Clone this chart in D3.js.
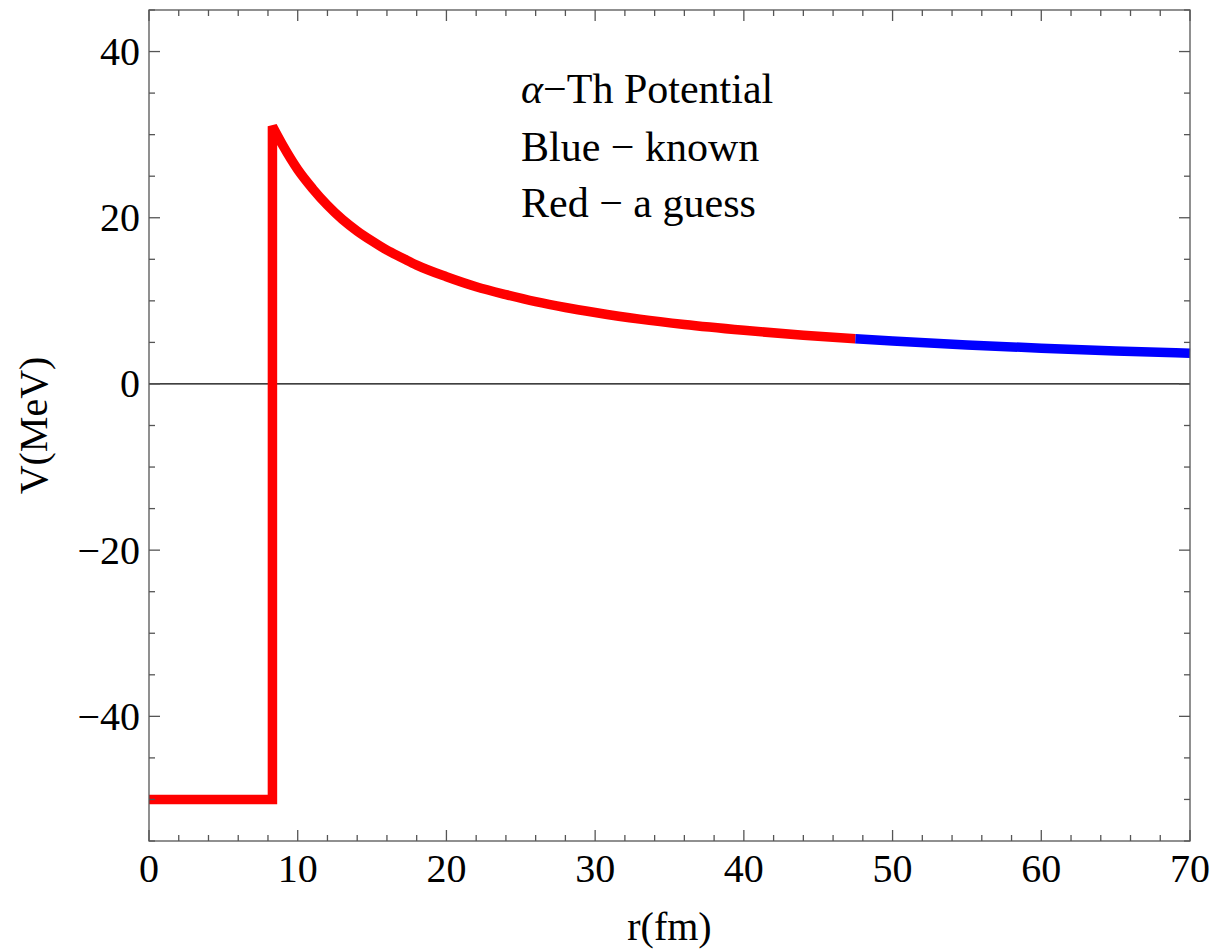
<!DOCTYPE html>
<html>
<head>
<meta charset="utf-8">
<script src="https://cdn.jsdelivr.net/npm/d3@7"></script>
<style>
  body { margin: 0; background: #fff; }
  svg { display: block; font-family: "Liberation Serif", "DejaVu Serif", serif; }
</style>
</head>
<body>
<svg id="chart" width="1216" height="950"></svg>
<script>
// values
const stepR = [0, 8.3];
const stepV = [-50, -50];

// red part of the barrier (a guess)
const guessR = [8.3, 9, 10, 11, 12, 13, 14, 15, 16, 17, 18, 20, 22, 24, 26, 28, 30, 33, 36, 40, 44, 47.5];
const guessV = [31.0, 28.7, 25.8, 23.5, 21.5, 19.8, 18.4, 17.2, 16.1, 15.2, 14.3, 12.9, 11.7, 10.75, 9.9, 9.2, 8.6, 7.8, 7.15, 6.45, 5.85, 5.43];

// blue part (known)
const knownR = [47.5, 50, 55, 60, 65, 70];
const knownV = [5.43, 5.16, 4.69, 4.3, 3.97, 3.69];

const xTicks = [0, 10, 20, 30, 40, 50, 60, 70];
const yTicks = [-40, -20, 0, 20, 40];
const notes = ["Th Potential", "Blue \u2212 known", "Red \u2212 a guess"];

const W = 1216, H = 950;
const margin = { left: 149, right: 26, top: 10, bottom: 109 };

const svg = d3.select("#chart");

const x = d3.scaleLinear().domain([0, 70]).range([margin.left, W - margin.right]);
const y = d3.scaleLinear().domain([-55, 45]).range([H - margin.bottom, margin.top]);

const frameColor = "#555";
const fontSize = 40;

// zero line
svg.append("line")
  .attr("x1", x(0)).attr("x2", x(70))
  .attr("y1", y(0)).attr("y2", y(0))
  .attr("stroke", "#000")
  .attr("stroke-width", 1.2);

// curves
const line = d3.line().x(d => x(d[0])).y(d => y(d[1]));
const smooth = d3.line().x(d => x(d[0])).y(d => y(d[1])).curve(d3.curveMonotoneX);

const stepPts = stepR.map((r, i) => [r, stepV[i]]);
const guessPts = guessR.map((r, i) => [r, guessV[i]]);
const knownPts = knownR.map((r, i) => [r, knownV[i]]);

// step + curve as one path so the corner gets a join
const redPath = line(stepPts) + smooth(guessPts).replace(/^M/, "L");

svg.append("path")
  .attr("d", redPath)
  .attr("fill", "none")
  .attr("stroke", "#ff0000")
  .attr("stroke-width", 9.5)
  .attr("stroke-linejoin", "miter")
  .attr("stroke-linecap", "butt");

svg.append("path")
  .attr("d", smooth(knownPts))
  .attr("fill", "none")
  .attr("stroke", "#0000ff")
  .attr("stroke-width", 9.5)
  .attr("stroke-linecap", "butt");

// frame
svg.append("rect")
  .attr("x", x(0)).attr("y", y(45))
  .attr("width", x(70) - x(0))
  .attr("height", y(-55) - y(45))
  .attr("fill", "none")
  .attr("stroke", frameColor)
  .attr("stroke-width", 1.3);

// inward ticks on all four sides
const majorLen = 11, minorLen = 6;
const xMinor = d3.range(0, 70.01, 2).filter(v => v % 10 !== 0);
const yMinor = d3.range(-55, 45.01, 5).filter(v => v % 20 !== 0);

const tickG = svg.append("g").attr("stroke", frameColor).attr("stroke-width", 1.3);

function xTick(v, len) {
  tickG.append("line").attr("x1", x(v)).attr("x2", x(v))
    .attr("y1", y(-55)).attr("y2", y(-55) - len);
  tickG.append("line").attr("x1", x(v)).attr("x2", x(v))
    .attr("y1", y(45)).attr("y2", y(45) + len);
}
function yTick(v, len) {
  tickG.append("line").attr("y1", y(v)).attr("y2", y(v))
    .attr("x1", x(0)).attr("x2", x(0) + len);
  tickG.append("line").attr("y1", y(v)).attr("y2", y(v))
    .attr("x1", x(70)).attr("x2", x(70) - len);
}
xTicks.forEach(v => xTick(v, majorLen));
xMinor.forEach(v => xTick(v, minorLen));
yTicks.forEach(v => yTick(v, majorLen));
yMinor.forEach(v => yTick(v, minorLen));

// tick labels
const fmt = d3.format("d");
svg.append("g")
  .selectAll("text")
  .data(xTicks)
  .join("text")
  .attr("x", d => x(d))
  .attr("y", y(-55) + 27)
  .attr("text-anchor", "middle")
  .attr("dominant-baseline", "central")
  .attr("font-size", fontSize)
  .text(d => fmt(d));

svg.append("g")
  .selectAll("text")
  .data(yTicks)
  .join("text")
  .attr("x", x(0) - 9)
  .attr("y", d => y(d))
  .attr("text-anchor", "end")
  .attr("dominant-baseline", "central")
  .attr("font-size", fontSize)
  .text(d => fmt(d));

// axis titles
svg.append("text")
  .attr("x", (x(0) + x(70)) / 2)
  .attr("y", 940)
  .attr("text-anchor", "middle")
  .attr("font-size", fontSize)
  .text("r(fm)");

svg.append("text")
  .attr("transform", `translate(47, ${(y(45) + y(-55)) / 2}) rotate(-90)`)
  .attr("text-anchor", "middle")
  .attr("font-size", fontSize)
  .text("V(MeV)");

// annotation
const noteG = svg.append("g").attr("font-size", 42);
const l1 = noteG.append("text").attr("x", 521).attr("y", 103);
l1.append("tspan").attr("font-style", "italic").text("\u03b1");
l1.append("tspan").text("\u2212" + notes[0]);
noteG.append("text").attr("x", 521).attr("y", 161).text(notes[1]);
noteG.append("text").attr("x", 521).attr("y", 217).text(notes[2]);
</script>
</body>
</html>
